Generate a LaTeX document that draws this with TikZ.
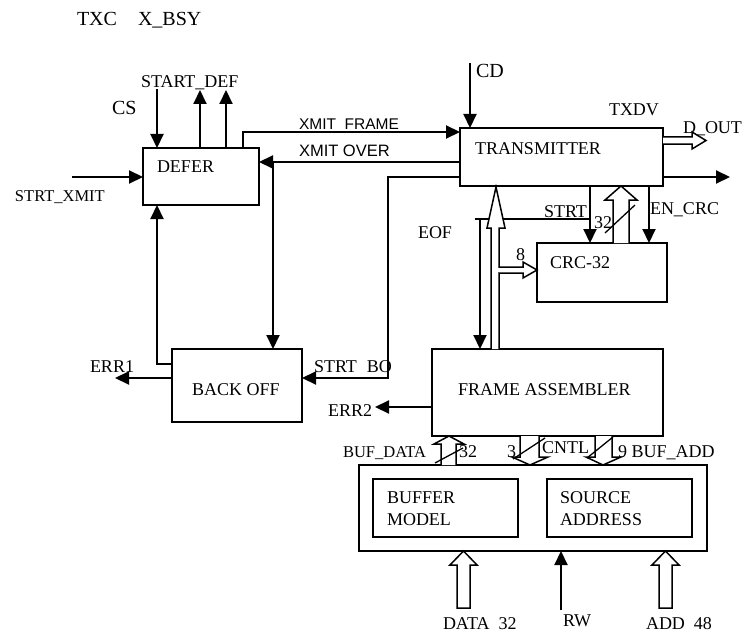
\documentclass[tikz,border=0pt]{standalone}
\usepackage{fontspec}
\setmainfont{Liberation Serif}
\newfontfamily\sansf{Liberation Sans}
\usetikzlibrary{arrows.meta}
\newcommand\fsa{\fontsize{18}{20}\selectfont}
\newcommand\fsb{\fontsize{16.5}{18}\selectfont}
\newcommand\fsc{\fontsize{20}{22}\selectfont}
\tikzset{
  box/.style={draw, line width=1.8pt, inner sep=0pt, outer sep=0pt, anchor=north west},
  lbl/.style={anchor=base west, inner sep=0pt, outer sep=0pt, font=\fsa},
  wire/.style={line width=2.1pt},
  arr/.style={line width=2.1pt, -{Triangle[length=14pt,width=13pt]}},
  hollow/.style={draw, line width=1.5pt, fill=white, line join=miter},
  slash/.style={line width=1.3pt}
}
\begin{document}
\begin{tikzpicture}[x=1pt,y=-1pt]
\useasboundingbox (0,0) rectangle (756,634);

% boxes
\node[box, minimum width=116pt, minimum height=57pt] (defer) at (143,148) {};
\node[box, minimum width=203pt, minimum height=58pt] (tx) at (460,128) {};
\node[box, minimum width=130pt, minimum height=59pt] (crc) at (537,243) {};
\node[box, minimum width=130pt, minimum height=73pt] (bo) at (172,349) {};
\node[box, minimum width=231pt, minimum height=87pt] (fa) at (432,349) {};
\node[box, minimum width=348pt, minimum height=86pt] (buf) at (359,465) {};
\node[box, minimum width=145pt, minimum height=58pt] (bm) at (373,479) {};
\node[box, minimum width=145pt, minimum height=58pt] (sa) at (547,479) {};

% box texts
\node[lbl] (tdefer) at (157,172) {DEFER};
\node[lbl] (ttx) at (475,154) {TRANSMITTER};
\node[lbl] (tcrc) at (550,268) {CRC-32};
\node[lbl] (tbo) at (192,395) {BACK OFF};
\node[lbl] (tfa) at (458,395) {FRAME ASSEMBLER};
\node[lbl] (tbm1) at (387,503) {BUFFER};
\node[lbl] (tbm2) at (387,525) {MODEL};
\node[lbl] (tsa1) at (560,503) {SOURCE};
\node[lbl] (tsa2) at (560,525) {ADDRESS};

% free labels
\node[lbl, font=\fsc] (ltxc) at (77,26) {TXC};
\node[lbl, font=\fsc] (lxbsy) at (138,26) {X\_BSY};
\node[lbl, font=\fsa] (lsdef) at (141,88) {START\_DEF};
\node[lbl, font=\fsc] (lcs) at (112,114) {CS};
\node[lbl, font=\sansf\fontsize{15.5}{17}\selectfont] (lxf) at (299,130) {XMIT\_FRAME};
\node[lbl, font=\sansf\fontsize{16.5}{18}\selectfont] (lxo) at (299,157) {XMIT OVER};
\node[lbl, font=\fsb] (lsx) at (15,201) {STRT\_XMIT};
\node[lbl, font=\fsc] (lcd) at (476,78) {CD};
\node[lbl] (ltxdv) at (609,116) {TXDV};
\node[lbl] (ldout) at (683,134) {D\_OUT};
\node[lbl] (lstrt) at (544,217) {STRT};
\node[lbl] (l32a) at (594,228) {32};
\node[lbl] (lencrc) at (650,214) {EN\_CRC};
\node[lbl] (leof) at (418,238) {EOF};
\node[lbl] (l8) at (516,260) {8};
\node[lbl] (lerr1) at (90,372) {ERR1};
\node[lbl] (lsbo) at (314,372) {STRT\hspace{0.55em}BO};
\node[lbl] (lerr2) at (328,416) {ERR2};
\node[lbl, font=\fsb] (lbd) at (343,457) {BUF\_DATA};
\node[lbl] (l32b) at (459,457) {32};
\node[lbl] (l3) at (507,457) {3};
\node[lbl] (lcntl) at (542,453) {CNTL};
\node[lbl] (lba) at (618,457) {9 BUF\_ADD};
\node[lbl] (ldata) at (443,629) {DATA\hspace{0.5em}32};
\node[lbl] (lrw) at (563,626) {RW};
\node[lbl] (ladd) at (646,629) {ADD\hspace{0.5em}48};

% coordinates for connector routing
\coordinate (csT) at (157,89);
\coordinate (sd1) at (200,90);
\coordinate (sd2) at (226,90);
\coordinate (xf) at (243,132);
\coordinate (xo) at (273,162);
\coordinate (sb) at (388,177);
\coordinate (sb2) at (388,378);
\coordinate (bd) at (157,364);
\coordinate (e1) at (115,378);
\coordinate (sx) at (72,177);
\coordinate (cd) at (470,63);
\coordinate (ro) at (730,177);
\coordinate (st) at (590,219);
\coordinate (eof) at (480,219);
\coordinate (eofs) at (475,219);
\coordinate (en) at (649,219);
\coordinate (e2) at (375,407);
\coordinate (rw) at (561,610);

% connectors
\draw[arr] (csT) -- (csT |- defer.north);
\draw[arr] (sd1 |- defer.north) -- (sd1);
\draw[arr] (sd2 |- defer.north) -- (sd2);
\draw[arr] (xf |- defer.north) -- (xf) -- (xf -| tx.west);
\draw[arr] (xo -| tx.west) -- (xo -| defer.east);
\draw[arr] (xo) -- (xo |- bo.north);
\draw[arr] (sb -| tx.west) -- (sb) -- (sb2) -- (sb2 -| bo.east);
\draw[arr] (bd -| bo.west) -- (bd) -- (bd |- defer.south);
\draw[arr] (e1 -| bo.west) -- (e1);
\draw[arr] (sx) -- (sx -| defer.west);
\draw[arr] (cd) -- (cd |- tx.north);
\draw[arr] (ro -| tx.east) -- (ro);
\draw[arr] (st |- tx.south) -- (st |- crc.north);
\draw[wire] (st) -- (eofs);
\draw[arr] (eof) -- (eof |- fa.north);
\draw[arr] (en |- tx.south) -- (en |- crc.north);
\draw[arr] (e2 -| fa.west) -- (e2);
\draw[arr] (rw) -- (rw |- buf.south);

% hollow buses
% D_OUT
\path[hollow] (663,137) -- (692,137) -- (692,132) -- (706,140.5) -- (692,149) -- (692,144) -- (663,144);
% frame assembler -> transmitter
\path[hollow] (491,349) -- (491,228) -- (487,228) -- (496,187) -- (505,228) -- (499,228) -- (499,349);
\fill[white] (498,268) rectangle (501,272);
\draw[line width=1.5pt, fill=white] (499,267) -- (523,267) -- (523,262) -- (537,270) -- (523,278) -- (523,273) -- (499,273);
% CRC -> transmitter (32)
\path[hollow] (613,243) -- (613,200) -- (605,200) -- (621,186) -- (637,200) -- (629,200) -- (629,243);
\draw[slash] (605,233) -- (635,205);
% BUF_DATA up
\path[hollow] (441,465) -- (441,444) -- (434,444) -- (449,436) -- (464,444) -- (456,444) -- (456,465);
\draw[slash] (435,463) -- (463,448);
% CNTL down
\path[hollow] (520,436) -- (520,457) -- (512,457) -- (530,465) -- (548,457) -- (539,457) -- (539,436);
\draw[slash] (513,459) -- (545,438);
% BUF_ADD down
\path[hollow] (595,436) -- (595,457) -- (586,457) -- (603,465) -- (621,457) -- (612,457) -- (612,436);
\draw[slash] (587,458) -- (613,437);
% DATA 32 up
\path[hollow] (457,608) -- (457,565) -- (450,565) -- (463.5,551) -- (477,565) -- (470,565) -- (470,608) -- cycle;
% ADD 48 up
\path[hollow] (659,608) -- (659,565) -- (652,565) -- (665.5,551) -- (679,565) -- (672,565) -- (672,608) -- cycle;
\end{tikzpicture}
\end{document}
